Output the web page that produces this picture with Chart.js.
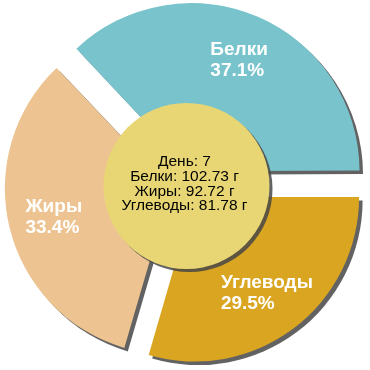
<!DOCTYPE html>
<html><head><meta charset="utf-8">
<script src="https://cdn.jsdelivr.net/npm/chart.js@4"></script>
<style>html,body{margin:0;padding:0;background:#fff}#w{width:370px;height:370px}</style>
</head><body><div id="w"><canvas id="c" width="370" height="370"></canvas></div>
<script>
const categories = ['Белки', 'Углеводы', 'Жиры'];
const grams = [102.73, 81.78, 92.72];
const percentLabels = ['37.1%', '29.5%', '33.4%'];
const colors = ['#79C3CC', '#DAA520', '#EDC491'];
const dayLabel = 'День: 7';
const centerLines = [dayLabel, 'Белки: 102.73 г', 'Жиры: 92.72 г', 'Углеводы: 81.78 г'];

const OFFSET = 60; // Chart.js v4 arc translates by offset/4
const total = grams.reduce((a, b) => a + b, 0);
const rotation = 90 - 360 * grams[0] / total;

const shadowPlugin = {
  id: 'shadow',
  beforeDatasetsDraw(chart) {
    const ctx = chart.ctx;
    ctx.save();
    ctx.shadowColor = 'rgba(70,70,70,0.85)';
    ctx.shadowOffsetX = 3.5;
    ctx.shadowOffsetY = 3.5;
    ctx.shadowBlur = 0;
  },
  afterDatasetsDraw(chart) {
    chart.ctx.restore();
  }
};

const overlayPlugin = {
  id: 'overlay',
  afterDatasetsDraw(chart) {
    const ctx = chart.ctx;
    const meta = chart.getDatasetMeta(0);
    ctx.save();
    ctx.font = 'bold 19px "Liberation Sans", Arial, sans-serif';
    ctx.fillStyle = '#ffffff';
    ctx.textBaseline = 'middle';
    ctx.textAlign = 'left';
    meta.data.forEach((arc, i) => {
      const p = arc.getProps(['x', 'y', 'startAngle', 'endAngle', 'outerRadius'], true);
      const mid = (p.startAngle + p.endAngle) / 2;
      const off = (arc.options.offset || 0) / 4;
      const d = off + p.outerRadius * 0.735;
      const cx = p.x + Math.cos(mid) * d;
      const cy = p.y + Math.sin(mid) * d;
      const lines = [categories[i], percentLabels[i]];
      const w = Math.max(...lines.map(l => ctx.measureText(l).width));
      const left = cx - w / 2;
      ctx.fillText(lines[0], left, cy - 10.5);
      ctx.fillText(lines[1], left, cy + 10.5);
    });
    ctx.restore();
    const x0 = meta.data[0].x + 1, y0 = meta.data[0].y + 1;
    ctx.save();
    ctx.shadowColor = 'rgba(70,70,70,0.85)';
    ctx.shadowOffsetX = 3;
    ctx.shadowOffsetY = 3;
    ctx.beginPath();
    ctx.arc(x0, y0, 83, 0, Math.PI * 2);
    ctx.fillStyle = '#E8D674';
    ctx.fill();
    ctx.restore();
    ctx.save();
    ctx.font = '15.5px "Liberation Sans", Arial, sans-serif';
    ctx.fillStyle = '#000';
    ctx.textAlign = 'center';
    ctx.textBaseline = 'middle';
    const lh = 14.7;
    centerLines.forEach((t, i) => {
      ctx.fillText(t, x0 - 2, y0 - 2 + (i - (centerLines.length - 1) / 2) * lh);
    });
    ctx.restore();
  }
};

new Chart(document.getElementById('c'), {
  type: 'pie',
  data: {
    labels: categories,
    datasets: [{
      data: grams,
      backgroundColor: colors,
      borderWidth: 0,
      offset: OFFSET,
      hoverOffset: 0
    }]
  },
  options: {
    responsive: false,
    animation: false,
    rotation: rotation,
    radius: 164,
    layout: { padding: { left: 1, right: 0, top: 0, bottom: 0 } },
    events: [],
    plugins: { legend: { display: false }, tooltip: { enabled: false } }
  },
  plugins: [shadowPlugin, overlayPlugin]
});
</script>
</body></html>
